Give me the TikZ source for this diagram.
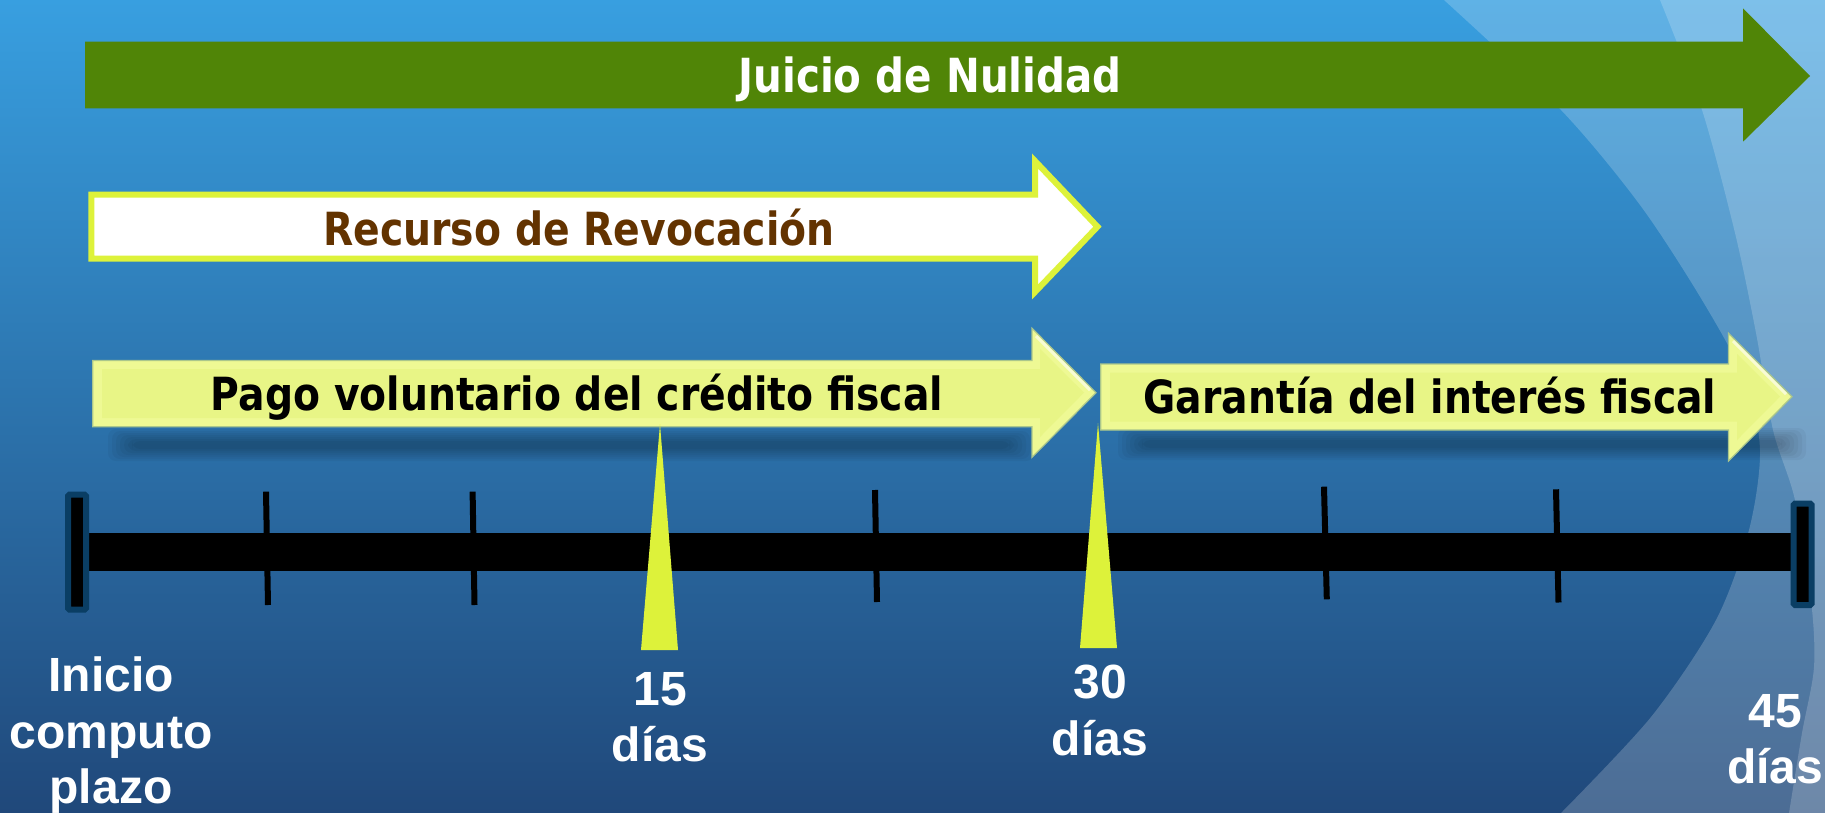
\documentclass[tikz,border=0pt]{standalone}
\usepackage{fontspec}
\newfontfamily\arrowbold[FakeStretch=0.86]{DejaVu Sans Bold}
\newfontfamily\labelfont{Liberation Sans Bold}
\definecolor{bgtop}{RGB}{56,159,224}
\definecolor{bgbot}{RGB}{32,72,122}
\definecolor{jgreen}{RGB}{80,133,7}
\definecolor{lime}{RGB}{221,242,58}
\definecolor{paley}{RGB}{238,249,148}
\definecolor{paleyin}{RGB}{232,245,134}
\definecolor{paleedge}{RGB}{170,198,140}
\definecolor{brownt}{RGB}{99,51,0}
\definecolor{capblue}{RGB}{10,62,100}
\tikzset{
  lbl/.style={font=\labelfont\fontsize{48}{56}\selectfont, text=white, inner sep=0pt, anchor=base},
  arrowtext/.style={font=\arrowbold\fontsize{45.7}{50}\selectfont, inner sep=0pt, anchor=base},
  yarrow/.style={fill=paley, draw=paleedge, line width=1.2pt},
  yinner/.style={fill=paleyin},
  tick/.style={line width=6pt, black},
  endcap/.style={draw=capblue, line width=6pt, fill=black, rounded corners=1.5pt},
  spike/.style={fill=lime},
  shadowlayer/.style={black, opacity=0.04, rounded corners=8pt},
}
\begin{document}
\begin{tikzpicture}[x=1pt,y=-1pt]
\useasboundingbox (0,0) rectangle (1825,813);
% background
\shade[top color=bgtop, bottom color=bgbot] (0,0) rectangle (1825,813);
\fill[white, opacity=0.2] plot[smooth] coordinates {(1444,0) (1561,110) (1640,205) (1702,300) (1745,380) (1760,450) (1749,530) (1716,620) (1651,717) (1561,813)} -- (1825,813) -- (1825,0) -- cycle;
\fill[white, opacity=0.19] plot[smooth] coordinates {(1660,0) (1702,110) (1735,233) (1756,333) (1773,430) (1795,500) (1811,600) (1814,667) (1802,733) (1789,813)} -- (1825,813) -- (1825,0) -- cycle;
% Juicio de Nulidad arrow
\fill[jgreen] (85,41.7) -- (1743,41.7) -- (1743,8.3) -- (1810,76) -- (1743,141.7) -- (1743,108.3) -- (85,108.3) -- cycle;
\node[font=\arrowbold\fontsize{47}{50}\selectfont, text=white, inner sep=0pt, anchor=base] (juicio) at (930,92.7) {Juicio de Nulidad};
% Recurso de Revocacion arrow
\draw[lime, line width=6pt, fill=white, line join=miter] (91.3,194.7) -- (1035,194.7) -- (1035,161) -- (1097.5,226.7) -- (1035,292) -- (1035,258.7) -- (91.3,258.7) -- cycle;
\node[arrowtext, text=brownt] (recurso) at (579,245) {Recurso de Revocación};
% shadows
\foreach \d in {0,2,4,6,8,10,12} {
  \fill[shadowlayer] (108+2*\d,429+\d) rectangle (1034-2*\d,461-\d);
  \fill[shadowlayer] (1118+2*\d,428+\d) rectangle (1806-2*\d,460-\d);
}
% Pago voluntario arrow
\path[yarrow] (92.7,360.5) -- (1032,360.5) -- (1032,328.3) -- (1096,392.7) -- (1032,457.3) -- (1032,426.7) -- (92.7,426.7) -- cycle;
\path[yinner] (102,369) -- (1040,369) -- (1040,349) -- (1084,392.7) -- (1040,437) -- (1040,418) -- (102,418) -- cycle;
\draw[white, opacity=0.6, line width=3pt] (1036,336) -- (1090,390);
\node[arrowtext, text=black] (pago) at (577,410) {Pago voluntario del crédito fiscal};
% Garantia arrow
\path[yarrow] (1100.7,364) -- (1728.5,364) -- (1728.5,333.3) -- (1792,396.7) -- (1728.5,461) -- (1728.5,430) -- (1100.7,430) -- cycle;
\path[yinner] (1110,372.5) -- (1737,372.5) -- (1737,354) -- (1780,396.7) -- (1737,440) -- (1737,421.5) -- (1110,421.5) -- cycle;
\draw[white, opacity=0.6, line width=3pt] (1733,341) -- (1786,394);
\node[arrowtext, text=black] (garantia) at (1430,413) {Garantía del interés fiscal};
% timeline bar
\fill[black] (88,533) rectangle (1792,570.5);
\draw[tick] (266,491.7) -- (268,605);
\draw[tick] (472.6,491.7) -- (474.5,605);
\draw[tick] (875,490) -- (877,602);
\draw[tick] (1324,486.7) -- (1326.8,599.3);
\draw[tick] (1556,489.3) -- (1558.5,602.5);
\draw[endcap] (68,494.7) rectangle (86,609.7);
\draw[endcap] (1793.5,503.5) rectangle (1811.5,605);
% spikes
\fill[spike] (660,424) -- (678,650) -- (641,650) -- cycle;
\fill[spike] (1098,423) -- (1117,648) -- (1080,648) -- cycle;
% labels
\node[lbl] (inicioA) at (111,691.7) {Inicio};
\node[lbl] (inicioB) at (111,748) {computo};
\node[lbl] (inicioC) at (111,803) {plazo};
\node[lbl] (d15a) at (660,705) {15};
\node[lbl] (d15b) at (660,761) {días};
\node[lbl] (d30a) at (1100,698) {30};
\node[lbl] (d30b) at (1100,755) {días};
\node[lbl] (d45a) at (1775,727) {45};
\node[lbl] (d45b) at (1775,783) {días};
\end{tikzpicture}
\end{document}
